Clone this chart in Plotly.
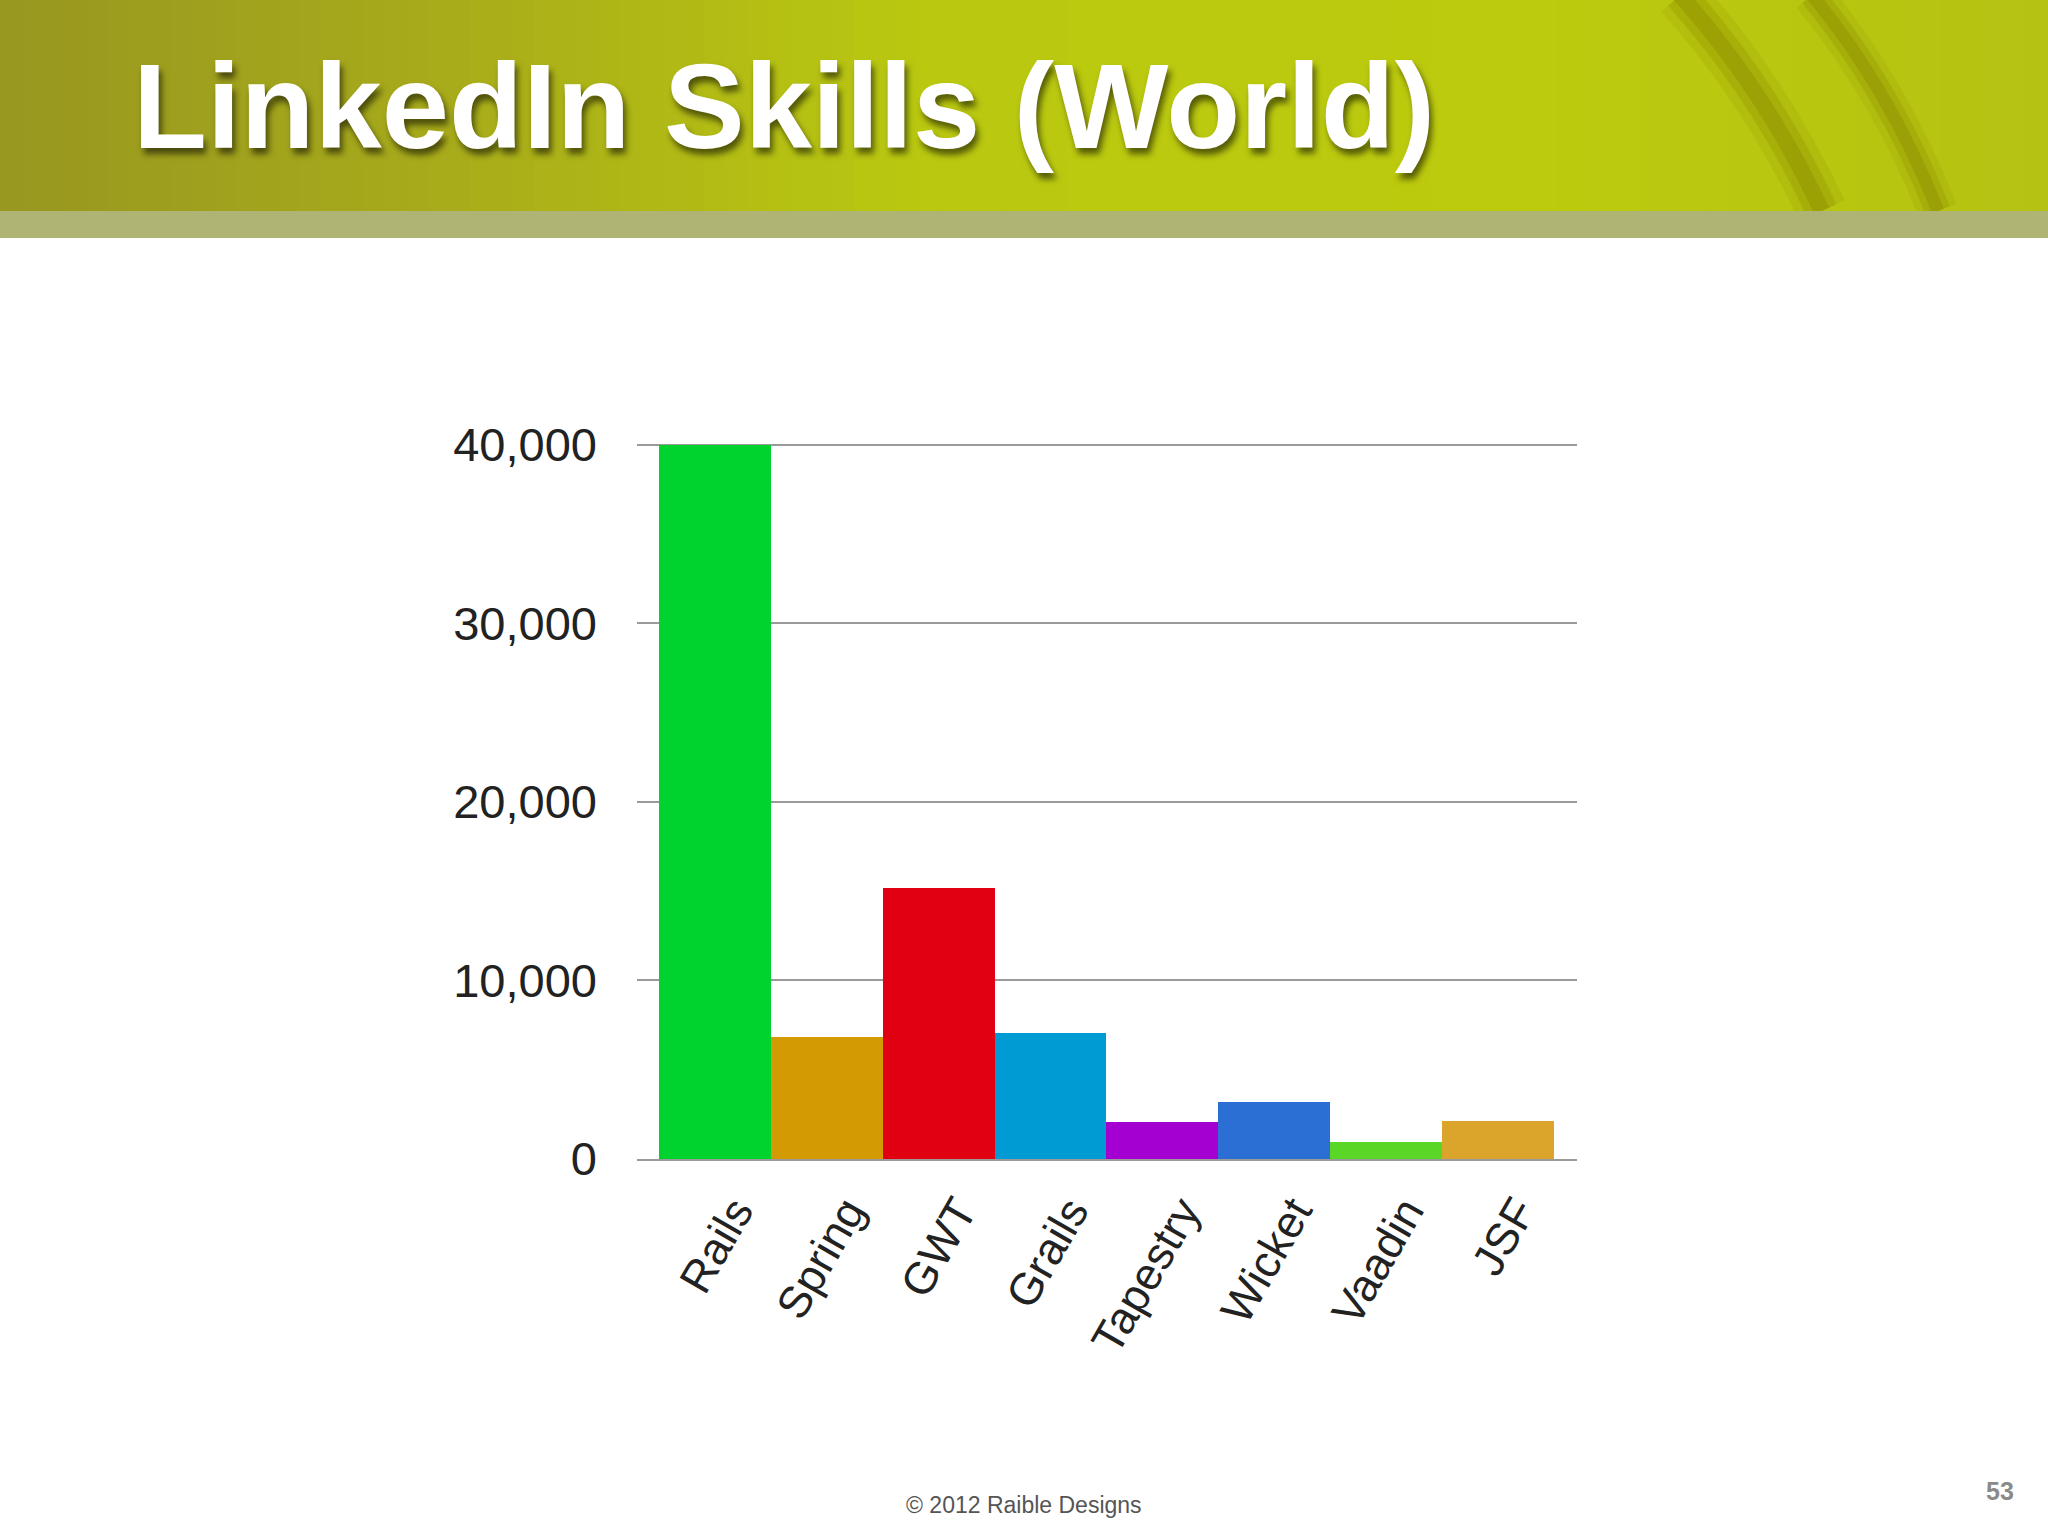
import plotly.graph_objects as go

# ---- data ----
categories = ["Rails", "Spring", "GWT", "Grails", "Tapestry", "Wicket", "Vaadin", "JSF"]
members = [39950, 6850, 15200, 7050, 2060, 3200, 980, 2130]
bar_colors = ["#00d22e", "#d49a02", "#e10012", "#009bd3", "#a400d1", "#2b6fd4", "#5ad626", "#dba42a"]
y_ticks = [0, 10000, 20000, 30000, 40000]

title_text = "LinkedIn Skills (World)"
footer_text = "© 2012 Raible Designs"
page_number = "53"

W, H = 2048, 1536
L, R, T, B = 637, 471, 441, 377
PW, PH = W - L - R, H - T - B


def px(x):
    return (x - L) / PW


def py(y):
    return (H - B - y) / PH


fig = go.Figure()
fig.add_trace(go.Bar(
    x=list(range(len(categories))),
    y=members,
    width=1.0,
    marker=dict(color=bar_colors, line=dict(width=0)),
    hoverinfo="x+y",
    showlegend=False,
))

# ---- header banner (gradient built from thin strips) ----
def lerp(a, b, t):
    return tuple(int(round(a[i] + (b[i] - a[i]) * t)) for i in range(3))


stops = [(0.0, (152, 150, 32)), (0.22, (168, 172, 26)), (0.45, (186, 200, 16)),
         (0.75, (188, 203, 14)), (1.0, (181, 194, 18))]


def grad_color(x):
    for (x0, c0), (x1, c1) in zip(stops[:-1], stops[1:]):
        if x0 <= x <= x1:
            return lerp(c0, c1, (x - x0) / (x1 - x0))
    return stops[-1][1]


shapes = []
n = 96
for i in range(n):
    X0 = W * i / n
    X1 = W * (i + 1) / n + 3
    c = grad_color((i + 0.5) / n)
    shapes.append(dict(type="rect", xref="paper", yref="paper", x0=px(X0), x1=px(X1),
                       y0=py(211), y1=py(-2), fillcolor="rgb(%d,%d,%d)" % c,
                       line=dict(width=0), layer="below"))


def band(path, width, color):
    shapes.append(dict(type="path", xref="paper", yref="paper", path=path,
                       line=dict(color=color, width=width), layer="below"))


for w, op in [(50, 0.16), (32, 0.28), (16, 0.4)]:
    band("M %f,%f Q %f,%f %f,%f" % (px(1680), py(-5), px(1765), py(90), px(1822), py(211)),
         w, "rgba(140,140,0,%.2f)" % op)
    band("M %f,%f Q %f,%f %f,%f" % (px(1812), py(-5), px(1890), py(90), px(1938), py(211)),
         w * 0.8, "rgba(140,140,0,%.2f)" % op)

# gray-olive strip below banner
shapes.append(dict(type="rect", xref="paper", yref="paper", x0=px(-2), x1=px(W + 2),
                   y0=py(238), y1=py(211), fillcolor="#afb373",
                   line=dict(width=0), layer="below"))

annotations = [
    dict(text=title_text, xref="paper", yref="paper", x=px(131), y=py(106),
         xanchor="left", yanchor="middle", showarrow=False,
         font=dict(family="Liberation Sans", size=121, color="white", weight="bold",
                   shadow="3px 6px 6px rgba(0,0,0,0.55)")),
    dict(text=footer_text, xref="paper", yref="paper", x=px(1024), y=py(1505),
         xanchor="center", yanchor="middle", showarrow=False,
         font=dict(family="Liberation Sans", size=23, color="#555555")),
    dict(text="<b>" + page_number + "</b>", xref="paper", yref="paper", x=px(2000), y=py(1491),
         xanchor="center", yanchor="middle", showarrow=False,
         font=dict(family="Liberation Sans", size=25, color="#8a8a8a")),
]

fig.update_layout(
    width=W, height=H,
    margin=dict(l=L, r=R, t=T, b=B, pad=0),
    paper_bgcolor="white", plot_bgcolor="white",
    bargap=0,
    shapes=shapes,
    annotations=annotations,
    xaxis=dict(
        tickmode="array", tickvals=list(range(len(categories))), ticktext=categories,
        range=[-0.7, 7.71], tickangle=-60,
        showgrid=False, zeroline=False,
        showline=True, linecolor="#9a9a9a", linewidth=2,
        ticks="", ticklabelstandoff=6, ticklabelshift=20,
        tickfont=dict(family="Liberation Sans", size=45, color="#222222"),
    ),
    yaxis=dict(
        range=[0, 40200], tickmode="array", tickvals=y_ticks,
        tickformat=",d",
        showgrid=True, gridcolor="#9a9a9a", gridwidth=1.5,
        zeroline=False, showline=False, ticks="",
        ticklabelstandoff=39,
        tickfont=dict(family="Liberation Sans", size=47, color="#222222"),
    ),
)

fig.write_html("out.html", config={"displayModeBar": False},
               post_script="document.body.style.margin='0';")
